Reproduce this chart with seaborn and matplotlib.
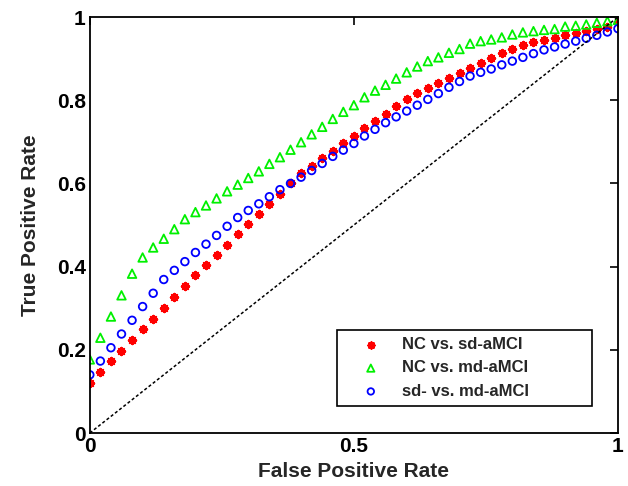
import pandas as pd
import matplotlib
matplotlib.use('Agg')
import matplotlib.pyplot as plt
import seaborn as sns

# False positive rates (shared by all three curves)
fpr = [0.00, 0.02, 0.04, 0.06, 0.08, 0.10, 0.12, 0.14, 0.16, 0.18,
       0.20, 0.22, 0.24, 0.26, 0.28, 0.30, 0.32, 0.34, 0.36, 0.38,
       0.40, 0.42, 0.44, 0.46, 0.48, 0.50, 0.52, 0.54, 0.56, 0.58,
       0.60, 0.62, 0.64, 0.66, 0.68, 0.70, 0.72, 0.74, 0.76, 0.78,
       0.80, 0.82, 0.84, 0.86, 0.88, 0.90, 0.92, 0.94, 0.96, 0.98, 1.00]

# True positive rates
tpr_nc_sd = [0.120, 0.146, 0.172, 0.197, 0.224, 0.249, 0.275, 0.301, 0.327, 0.353,
             0.379, 0.403, 0.427, 0.453, 0.478, 0.502, 0.526, 0.550, 0.575, 0.601,
             0.625, 0.643, 0.661, 0.678, 0.696, 0.715, 0.733, 0.751, 0.768, 0.787,
             0.804, 0.817, 0.829, 0.842, 0.853, 0.865, 0.877, 0.889, 0.901, 0.913,
             0.924, 0.933, 0.939, 0.945, 0.950, 0.956, 0.961, 0.966, 0.971, 0.977, 0.988]

tpr_nc_md = [0.177, 0.229, 0.280, 0.331, 0.383, 0.422, 0.446, 0.467, 0.490, 0.514,
             0.531, 0.547, 0.564, 0.581, 0.597, 0.613, 0.629, 0.647, 0.663, 0.681,
             0.699, 0.718, 0.736, 0.755, 0.772, 0.788, 0.807, 0.823, 0.837, 0.852,
             0.867, 0.881, 0.894, 0.903, 0.914, 0.923, 0.936, 0.942, 0.946, 0.951,
             0.958, 0.963, 0.966, 0.969, 0.971, 0.977, 0.979, 0.982, 0.986, 0.990, 0.993]

tpr_sd_md = [0.140, 0.173, 0.205, 0.238, 0.271, 0.304, 0.336, 0.369, 0.391, 0.412,
             0.434, 0.454, 0.475, 0.497, 0.518, 0.535, 0.551, 0.568, 0.585, 0.600,
             0.615, 0.631, 0.648, 0.665, 0.680, 0.696, 0.714, 0.730, 0.746, 0.760,
             0.774, 0.788, 0.802, 0.816, 0.831, 0.845, 0.858, 0.867, 0.875, 0.885,
             0.894, 0.903, 0.912, 0.921, 0.928, 0.935, 0.942, 0.949, 0.956, 0.964, 0.972]

labels = ['NC vs. sd-aMCI', 'NC vs. md-aMCI', 'sd- vs. md-aMCI']

sns.set_style('white')
plt.rcParams['font.family'] = ['Liberation Sans', 'DejaVu Sans']
plt.rcParams['font.weight'] = 'bold'

fig = plt.figure(figsize=(6.28, 4.86), dpi=100)
ax = fig.add_axes([0.143, 0.109, 0.841, 0.856])

# chance line
sns.lineplot(x=[0, 1], y=[0, 1], ax=ax, color='black', lw=1.1,
             linestyle=(0, (2, 1.5)), legend=False)

df = pd.DataFrame({'fpr': fpr, 'a': tpr_nc_sd, 'b': tpr_nc_md, 'c': tpr_sd_md})

sns.scatterplot(data=df, x='fpr', y='a', ax=ax, marker=(8, 2, 0), s=26,
                color='red', edgecolor='red', linewidth=1.7, label=labels[0])
sns.scatterplot(data=df, x='fpr', y='b', ax=ax, marker='^', s=38,
                facecolors='none', edgecolor='#00f000', linewidth=1.3, label=labels[1])
sns.scatterplot(data=df, x='fpr', y='c', ax=ax, marker='o', s=30,
                facecolors='none', edgecolor='blue', linewidth=1.3, label=labels[2])

ax.set_xlim(0, 1)
ax.set_ylim(0, 1)
ax.set_xticks([0, 0.5, 1])
ax.set_xticklabels(['0', '0.5', '1'])
ax.set_yticks([0, 0.2, 0.4, 0.6, 0.8, 1])
ax.set_yticklabels(['0', '0.2', '0.4', '0.6', '0.8', '1'])
ax.tick_params(direction='in', length=6, width=1.2, top=True, right=True,
               labelsize=15, pad=3, colors='black')
for t in ax.get_xticklabels() + ax.get_yticklabels():
    t.set_fontweight('bold')
for sp in ax.spines.values():
    sp.set_visible(True)
    sp.set_color('black')
    sp.set_linewidth(1.3)

ax.set_xlabel('False Positive Rate', fontsize=15, fontweight='bold', labelpad=4)
ax.set_ylabel('True Positive Rate', fontsize=15, fontweight='bold', labelpad=12)

leg = ax.legend(loc='lower left', bbox_to_anchor=(0.468, 0.065, 0.483, 0.18),
                mode='expand', fontsize=12, markerscale=0.85,
                frameon=True, fancybox=False, edgecolor='black', framealpha=1,
                borderpad=0.43, labelspacing=0.5, handlelength=3.2,
                handletextpad=0.25, borderaxespad=0)
leg.get_frame().set_linewidth(1.2)
for t in leg.get_texts():
    t.set_fontweight('bold')

plt.savefig('out.png', dpi=100)
plt.close()
